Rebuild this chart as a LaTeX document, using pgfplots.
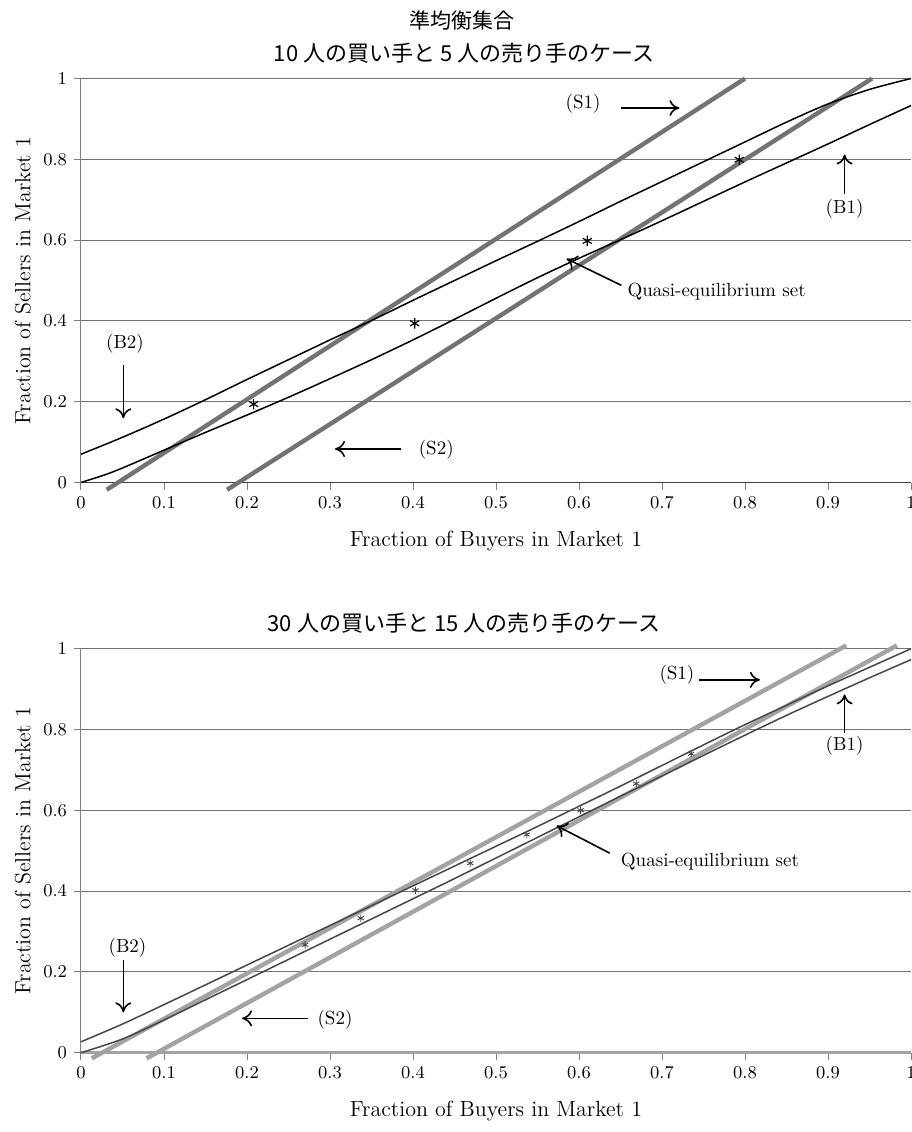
\documentclass[border=0pt]{standalone}
\usepackage{fontspec}
\usepackage{pgfplots}
\pgfplotsset{compat=1.18}
\usetikzlibrary{arrows.meta}
\newfontfamily\cjk{Noto Sans CJK JP}
\definecolor{sgrayA}{gray}{0.45}
\definecolor{sgrayB}{gray}{0.64}
\definecolor{gridc}{gray}{0.45}
\definecolor{bgray}{gray}{0.28}

\tikzset{
  ann/.style={font=\fontsize{9.5}{11}\selectfont},
  arr/.style={line width=0.8pt, -{Computer Modern Rightarrow[length=5pt,width=8pt]}},
}
\pgfplotsset{
  myaxis/.style={
    scale only axis, width=415pt, height=202pt,
    xmin=0, xmax=1, ymin=0, ymax=1,
    axis lines*=left,
    xtick={0,0.1,0.2,0.3,0.4,0.5,0.6,0.7,0.8,0.9,1},
    ytick={0,0.2,0.4,0.6,0.8,1},
    ymajorgrids,
    major grid style={gridc, line width=0.5pt},
    tick align=outside, major tick length=3.5pt,
    tick style={gray, line width=0.5pt},
    y axis line style={gray, line width=0.5pt},
    ticklabel style={font=\fontsize{9}{10}\selectfont},
    xlabel={Fraction of Buyers in Market 1},
    ylabel={Fraction of Sellers in Market 1},
    every axis x label/.style={at={(axis description cs:0.5,-0.145)}, anchor=center, font=\fontsize{11}{13}\selectfont},
    every axis y label/.style={at={(axis description cs:-0.07,0.5)}, rotate=90, anchor=center, font=\fontsize{11}{13}\selectfont},
    clip=false,
    anchor=south west,
  },
}

\pgfplotstableread{
x y
0.000 0.070
0.050 0.112
0.100 0.157
0.150 0.205
0.200 0.255
0.250 0.304
0.300 0.353
0.350 0.401
0.400 0.451
0.450 0.500
0.500 0.549
0.550 0.597
0.600 0.646
0.650 0.696
0.700 0.745
0.750 0.794
0.800 0.843
0.850 0.892
0.900 0.937
0.950 0.973
1.000 1.000
}\BtwoTop

\pgfplotstableread{
x y
0.000 0.000
0.030 0.020
0.050 0.036
0.100 0.080
0.150 0.124
0.200 0.167
0.250 0.211
0.300 0.257
0.350 0.304
0.400 0.353
0.450 0.404
0.500 0.456
0.550 0.507
0.600 0.555
0.650 0.601
0.700 0.648
0.750 0.696
0.800 0.744
0.850 0.791
0.900 0.838
0.950 0.886
1.000 0.933
}\BoneTop

\pgfplotstableread{
x y
0.000 0.027
0.050 0.071
0.100 0.119
0.150 0.168
0.200 0.217
0.250 0.266
0.300 0.315
0.350 0.364
0.400 0.413
0.450 0.462
0.500 0.511
0.550 0.560
0.600 0.610
0.650 0.660
0.700 0.711
0.750 0.762
0.800 0.812
0.850 0.860
0.900 0.908
0.950 0.954
1.000 1.000
}\BtwoBot

\pgfplotstableread{
x y
0.000 0.000
0.050 0.034
0.100 0.081
0.150 0.131
0.200 0.181
0.250 0.231
0.300 0.281
0.350 0.331
0.400 0.381
0.450 0.431
0.500 0.482
0.550 0.533
0.600 0.584
0.650 0.635
0.700 0.685
0.750 0.736
0.800 0.786
0.850 0.835
0.900 0.882
0.950 0.928
1.000 0.973
}\BoneBot

\begin{document}
\begin{tikzpicture}
\useasboundingbox (0,0) rectangle (456pt,-566pt);
\node[font=\cjk\fontsize{10.5}{12}\selectfont] at (231pt,-10pt) {準均衡集合};
\node[font=\cjk\fontsize{11}{13}\selectfont] at (232pt,-26.5pt) {10 人の買い手と 5 人の売り手のケース};

\begin{axis}[myaxis, at={(40.5pt,-241.25pt)}, x axis line style={black!75, line width=0.6pt}]
\addplot[sgrayA, line width=2.2pt] coordinates {(0.031,-0.018) (0.800,1.000)};
\addplot[sgrayA, line width=2.2pt] coordinates {(0.176,-0.018) (0.953,1.000)};
\addplot[black, line width=0.75pt, smooth] table {\BtwoTop};
\addplot[black, line width=0.75pt, smooth] table {\BoneTop};
\addplot[only marks, mark=asterisk, mark size=2.6pt, mark options={line width=0.6pt, black}] coordinates {(0.208,0.194) (0.402,0.394) (0.610,0.598) (0.793,0.799)};
\node[ann] at (axis cs:0.605,0.937) {(S1)};
\draw[arr] (axis cs:0.651,0.927) -- (axis cs:0.721,0.927);
\node[ann] at (axis cs:0.920,0.678) {(B1)};
\draw[arr] (axis cs:0.920,0.715) -- (axis cs:0.920,0.812);
\node[ann] at (axis cs:0.053,0.344) {(B2)};
\draw[arr] (axis cs:0.051,0.290) -- (axis cs:0.051,0.159);
\node[ann] at (axis cs:0.428,0.080) {(S2)};
\draw[arr] (axis cs:0.386,0.083) -- (axis cs:0.306,0.083);
\node[ann, anchor=west] at (axis cs:0.650,0.472) {Quasi-equilibrium set};
\draw[arr] (axis cs:0.651,0.488) -- (axis cs:0.585,0.554);
\end{axis}

\node[font=\cjk\fontsize{11}{13}\selectfont] at (232pt,-311.5pt) {30 人の買い手と 15 人の売り手のケース};

\begin{axis}[myaxis, at={(40.5pt,-526.35pt)}, x axis line style={sgrayB, line width=1.5pt}]
\addplot[sgrayB, line width=2.2pt] coordinates {(0.013,-0.014) (0.922,1.008)};
\addplot[sgrayB, line width=2.2pt] coordinates {(0.079,-0.014) (0.983,1.008)};
\addplot[bgray, line width=0.75pt, smooth] table {\BtwoBot};
\addplot[bgray, line width=0.75pt, smooth] table {\BoneBot};
\addplot[only marks, mark=asterisk, mark size=1.8pt, mark options={line width=0.45pt, bgray}] coordinates {(0.270,0.267) (0.337,0.333) (0.403,0.402) (0.469,0.469) (0.537,0.540) (0.602,0.600) (0.669,0.666) (0.735,0.740)};
\node[ann] at (axis cs:0.718,0.936) {(S1)};
\draw[arr] (axis cs:0.745,0.923) -- (axis cs:0.818,0.923);
\node[ann] at (axis cs:0.920,0.759) {(B1)};
\draw[arr] (axis cs:0.920,0.792) -- (axis cs:0.920,0.887);
\node[ann] at (axis cs:0.056,0.259) {(B2)};
\draw[arr] (axis cs:0.051,0.230) -- (axis cs:0.051,0.100);
\node[ann] at (axis cs:0.306,0.081) {(S2)};
\draw[arr] (axis cs:0.274,0.085) -- (axis cs:0.194,0.085);
\node[ann, anchor=west] at (axis cs:0.642,0.4735) {Quasi-equilibrium set};
\draw[arr] (axis cs:0.637,0.494) -- (axis cs:0.573,0.562);
\end{axis}
\end{tikzpicture}
\end{document}
